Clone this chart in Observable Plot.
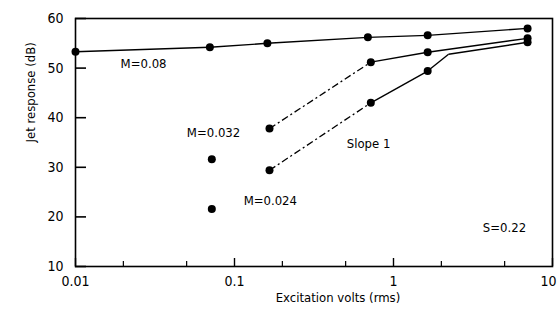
<!DOCTYPE html>
<html>
<head>
<meta charset="utf-8">
<script src="https://cdn.jsdelivr.net/npm/d3@7"></script>
<script src="https://cdn.jsdelivr.net/npm/@observablehq/plot@0.6"></script>
<style>
  body { margin: 0; background: #fff; }
</style>
</head>
<body>
<div id="chart"></div>
<script>
// ---- data ----
const volts08 = [0.01, 0.070, 0.161, 0.69, 1.64, 6.97];
const resp08  = [53.3, 54.2, 55.0, 56.2, 56.6, 58.0];

const volts032 = [0.166, 0.72, 1.64, 6.97];
const resp032  = [37.8, 51.2, 53.2, 56.0];
const dash032  = [true, false, false];

const volts024 = [0.166, 0.72, 1.64, 6.97];
const resp024  = [29.4, 43.0, 49.4, 55.2];
// line path of M=0.024 bends (no marker) before joining the last point
const path024X = [0.166, 0.72, 1.64, 2.22, 6.97];
const path024Y = [29.4, 43.0, 49.4, 52.8, 55.2];
const dash024  = [true, false, false, false];

// unconnected points at low excitation
const loneVolts = [0.072, 0.072];
const loneResp  = [31.6, 21.6];

const xMajor = [0.01, 0.1, 1, 10];
const xMajorLabels = ["0.01", "0.1", "1", "10"];
const xMinor = [0.02, 0.05, 0.2, 0.5, 2, 5];
const yTicks = [10, 20, 30, 40, 50, 60];

const noteText  = ["M=0.08", "M=0.032", "Slope 1", "M=0.024", "S=0.22"];
const noteVolts = [0.0268, 0.0738, 0.697, 0.168, 4.99];
const noteResp  = [50.9, 37.0, 34.8, 23.3, 17.7];

// ---- build tables ----
const pts = (xs, ys) => xs.map((x, i) => ({x, y: ys[i]}));
const segs = (xs, ys, dashes) => dashes.map((d, i) => ({x1: xs[i], y1: ys[i], x2: xs[i + 1], y2: ys[i + 1], dashed: d}));

const points = [
  ...pts(volts08, resp08),
  ...pts(volts032, resp032),
  ...pts(volts024, resp024),
  ...pts(loneVolts, loneResp)
];
const segments = [
  ...segs(volts08, resp08, volts08.slice(1).map(() => false)),
  ...segs(volts032, resp032, dash032),
  ...segs(path024X, path024Y, dash024)
];
const notes = noteText.map((t, i) => ({t, x: noteVolts[i], y: noteResp[i]}));

const W = 557, H = 317;
const mL = 75, mR = 5, mT = 18, mB = 51;
const fw = W - mL - mR, fh = H - mT - mB;
const labelFmt = d => xMajorLabels[xMajor.indexOf(d)];
const lastX = xMajor[xMajor.length - 1];

const chart = Plot.plot({
  width: W,
  height: H,
  marginLeft: mL,
  marginRight: mR,
  marginTop: mT,
  marginBottom: mB,
  style: {fontFamily: "'DejaVu Sans Condensed', 'DejaVu Sans', sans-serif", fontSize: "14px", color: "#000", background: "#fff"},
  x: {type: "log", domain: [0.01, 10]},
  y: {domain: [10, 60]},
  marks: [
    Plot.frame({stroke: "#000", strokeWidth: 1.6}),
    Plot.axisX({ticks: xMajor.slice(0, -1), tickSize: 0, tickPadding: 10, tickFormat: labelFmt, label: null, fontSize: 14}),
    Plot.axisX({ticks: [lastX], tickSize: 0, tickPadding: 10, tickFormat: labelFmt, label: null, textAnchor: "end", dx: 4, fontSize: 14}),
    Plot.axisY({ticks: yTicks, tickSize: 0, tickPadding: 12, label: null, fontSize: 14}),
    Plot.tickX(xMajor, {x: d => d, insetTop: fh - 8, stroke: "#000", strokeWidth: 1.4}),
    Plot.tickX(xMinor, {x: d => d, insetTop: fh - 5, stroke: "#000", strokeWidth: 1.2}),
    Plot.tickY(yTicks, {y: d => d, insetRight: fw - 11, stroke: "#000", strokeWidth: 1.6}),
    Plot.link(segments.filter(s => !s.dashed), {x1: "x1", y1: "y1", x2: "x2", y2: "y2", stroke: "#000", strokeWidth: 1.4}),
    Plot.link(segments.filter(s => s.dashed), {x1: "x1", y1: "y1", x2: "x2", y2: "y2", stroke: "#000", strokeWidth: 1.3, strokeDasharray: "7,3,2,3"}),
    Plot.dot(points, {x: "x", y: "y", r: 4, fill: "#000", stroke: "none"}),
    Plot.text(notes, {x: "x", y: "y", text: "t", fill: "#000", fontSize: 13}),
    Plot.text(["Jet response (dB)"], {frameAnchor: "left", dx: -45, rotate: -90, fill: "#000", fontSize: 13}),
    Plot.text(["Excitation volts (rms)"], {frameAnchor: "bottom", dx: 24, dy: 35, fill: "#000", fontSize: 13})
  ]
});
document.getElementById("chart").appendChild(chart);
</script>
</body>
</html>
